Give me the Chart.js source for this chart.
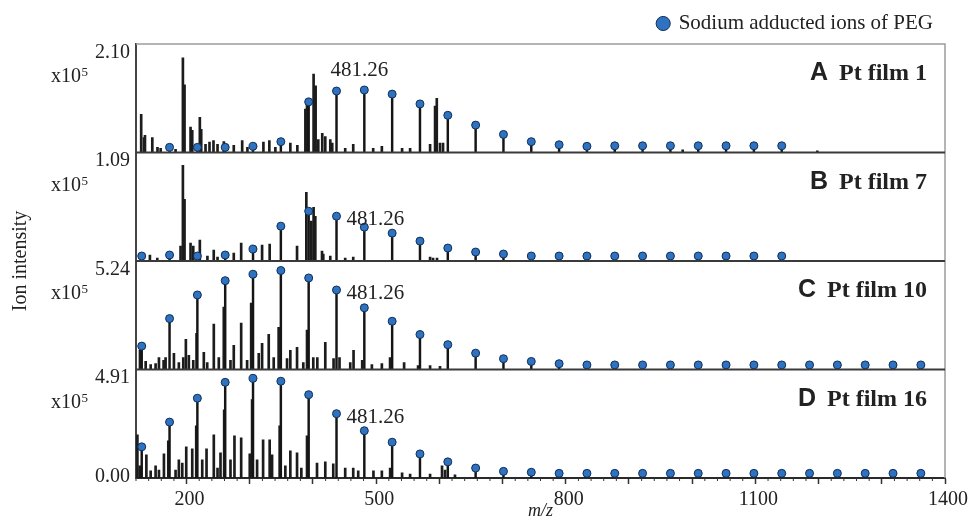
<!DOCTYPE html>
<html>
<head>
<meta charset="utf-8">
<title>PEG sodium adducts on Pt films</title>
<script src="https://cdn.jsdelivr.net/npm/chart.js@4.4.1/dist/chart.umd.min.js"></script>
<style>
  html, body { margin: 0; padding: 0; background: #fff; }
  #wrap { position: relative; width: 969px; height: 519px; }
</style>
</head>
<body>
<div id="wrap"><canvas id="chart" width="969" height="519"></canvas></div>
<script>
const SERIF = "'Liberation Serif', 'Times New Roman', Times, serif";
const SANS = "'Liberation Sans', Arial, Helvetica, sans-serif";

// panels, top to bottom
const films = ['A', 'B', 'C', 'D'];
const filmNames = ['Pt film 1', 'Pt film 7', 'Pt film 10', 'Pt film 16'];
const filmMax = [2.10, 1.09, 5.24, 4.91];          // top of each panel (x10^5)
const xMajorTicks = [200, 300, 400, 500, 600, 700, 800, 900, 1000, 1100, 1200, 1300, 1400];
const xTickLabels = [200, 500, 800, 1100, 1400];
const markedMz = '481.26';

// sodium adducted PEG oligomers, n = 2 ... 30
const pegMz = [129.05, 173.08, 217.10, 261.13, 305.16, 349.18, 393.21, 437.24, 481.26, 525.29,
  569.31, 613.34, 657.37, 701.39, 745.42, 789.45, 833.47, 877.50, 921.52, 965.55,
  1009.58, 1053.60, 1097.63, 1141.66, 1185.68, 1229.71, 1273.73, 1317.76, 1361.79];

// PEG peak heights per film (x10^5), null = not marked
const pegA = [null, 0.10, 0.10, 0.10, 0.12, 0.21, 0.98, 1.19, 1.21, 1.13,
  0.94, 0.72, 0.53, 0.35, 0.21, 0.15, 0.12, 0.13, 0.13, 0.13,
  0.13, 0.13, 0.13, 0.13, null, null, null, null, null];
const pegB = [0.05, 0.06, 0.05, 0.06, 0.12, 0.35, 0.50, 0.45, 0.34, 0.28,
  0.20, 0.13, 0.09, 0.07, 0.05, 0.05, 0.05, 0.05, 0.05, 0.05,
  0.05, 0.05, 0.05, 0.05, null, null, null, null, null];
const pegC = [1.13, 2.46, 3.60, 4.29, 4.60, 4.78, 4.42, 3.84, 2.98, 2.33,
  1.69, 1.20, 0.79, 0.52, 0.39, 0.28, 0.22, 0.22, 0.22, 0.22,
  0.22, 0.22, 0.22, 0.22, 0.22, 0.22, 0.22, 0.22, 0.22];
const pegD = [1.41, 2.53, 3.61, 4.33, 4.51, 4.38, 3.77, 2.91, 2.14, 1.62,
  1.09, 0.73, 0.45, 0.30, 0.26, 0.21, 0.21, 0.21, 0.21, 0.21,
  0.21, 0.21, 0.21, 0.21, 0.21, 0.21, 0.21, 0.21, 0.21];

// other ions (m/z, intensity x10^5)
const peakMzA = [128.2, 132.6, 134.2, 145.8, 154.0, 159.0, 182.6, 194.2, 196.8, 206.3,
  209.0, 221.0, 223.2, 230.0, 236.3, 242.6, 249.0, 259.0, 274.7, 288.0,
  296.3, 321.6, 331.0, 340.5, 364.2, 375.3, 388.0, 390.6, 401.0, 404.2,
  408.4, 414.7, 419.5, 427.4, 430.5, 451.0, 463.7, 495.3, 509.0, 541.0,
  553.7, 585.3, 593.2, 595.9, 601.0, 605.8, 985.0, 1198.0];
const peakA = [0.74, 0.29, 0.33, 0.29, 0.10, 0.08, 0.06, 1.83, 1.31, 0.49,
  0.43, 0.68, 0.45, 0.16, 0.20, 0.23, 0.16, 0.21, 0.14, 0.23,
  0.10, 0.20, 0.23, 0.10, 0.18, 0.14, 0.84, 0.96, 1.52, 1.29,
  0.25, 0.37, 0.31, 0.25, 0.18, 0.08, 0.16, 0.08, 0.12, 0.08,
  0.08, 0.16, 0.90, 1.05, 0.18, 0.18, 0.05, 0.03];

const peakMzB = [142.0, 153.7, 190.5, 194.2, 196.8, 206.3, 210.6, 221.0, 233.0, 243.0,
  249.0, 274.7, 286.4, 319.5, 331.5, 374.8, 389.5, 397.4, 401.0, 403.7,
  414.3, 416.3, 427.4, 451.0, 463.7, 585.3, 590.0, 596.3];
const peakB = [0.06, 0.03, 0.15, 0.96, 0.62, 0.18, 0.15, 0.21, 0.05, 0.11,
  0.04, 0.08, 0.18, 0.16, 0.17, 0.15, 0.69, 0.40, 0.54, 0.45,
  0.10, 0.07, 0.05, 0.03, 0.04, 0.04, 0.03, 0.03];

const peakMzC = [126.3, 135.3, 143.2, 151.0, 156.3, 163.7, 166.8, 180.0, 187.8, 194.8,
  198.9, 203.6, 210.6, 215.8, 227.3, 232.7, 243.1, 251.0, 258.9, 269.5,
  274.7, 286.4, 295.8, 302.2, 314.2, 319.5, 330.0, 337.9, 345.7, 359.0,
  364.2, 374.8, 384.7, 390.6, 400.5, 406.9, 419.5, 432.6, 442.0, 459.0,
  464.2, 477.9, 493.2, 509.0, 522.0, 544.2, 566.3, 585.3, 601.0];
const peakC = [0.92, 0.39, 0.24, 0.29, 0.58, 0.44, 0.58, 0.78, 0.34, 0.58,
  1.46, 0.68, 0.44, 1.75, 0.83, 0.34, 2.19, 0.58, 3.01, 0.44,
  1.17, 2.24, 0.44, 3.21, 0.78, 1.26, 1.70, 0.58, 2.04, 0.53,
  0.92, 1.07, 0.34, 1.90, 0.58, 0.58, 1.31, 0.53, 0.58, 0.34,
  0.92, 0.44, 0.24, 0.29, 0.58, 0.34, 0.19, 0.19, 0.15];

const peakMzD = [122.2, 125.8, 136.4, 143.2, 151.0, 156.3, 164.2, 171.1, 182.6, 187.8,
  193.2, 199.5, 209.0, 215.3, 224.8, 231.6, 243.1, 249.0, 253.7, 259.5,
  269.5, 275.8, 286.4, 300.0, 303.7, 311.6, 321.1, 331.5, 335.3, 347.3,
  356.3, 364.2, 374.8, 381.6, 390.6, 406.4, 419.5, 432.1, 451.0, 463.7,
  471.6, 495.7, 509.0, 522.1, 541.0, 553.7, 585.3, 604.2, 609.0, 624.7];
const peakD = [1.95, 0.55, 1.05, 0.32, 0.55, 0.36, 1.09, 1.68, 0.36, 0.82,
  0.68, 1.41, 1.32, 2.36, 0.82, 1.32, 1.95, 0.45, 1.14, 3.09,
  0.82, 1.91, 1.82, 1.09, 3.55, 0.82, 1.73, 1.73, 1.05, 2.36,
  0.55, 1.23, 1.14, 0.45, 1.91, 0.68, 0.73, 0.64, 0.45, 0.45,
  0.32, 0.32, 0.32, 0.45, 0.23, 0.18, 0.18, 0.55, 0.36, 0.14];

const pegHeights = [pegA, pegB, pegC, pegD];
const peakMz = [peakMzA, peakMzB, peakMzC, peakMzD];
const peakInt = [peakA, peakB, peakC, peakD];

function toPoints(xs, ys) {
    const pts = [];
    xs.forEach((x, i) => {
        if (ys[i] !== null && ys[i] !== undefined) pts.push({ x: x, y: ys[i] });
    });
    return pts;
}

const datasets = [];
films.forEach((f, i) => {
    const axisId = 'y' + f;
    datasets.push({
        type: 'scatter',
        label: i === 0 ? 'Sodium adducted ions of PEG' : '',
        data: toPoints(pegMz, pegHeights[i]),
        yAxisID: axisId,
        pointStyle: 'circle',
        pointRadius: 4,
        pointHoverRadius: 4,
        backgroundColor: '#2e72c0',
        borderColor: '#0f2f5a',
        borderWidth: 1,
        order: 0
    });
    datasets.push({
        type: 'bar',
        label: '',
        data: toPoints(pegMz, pegHeights[i]),
        yAxisID: axisId,
        backgroundColor: '#151515',
        barThickness: 1.8,
        grouped: false,
        order: 1
    });
    datasets.push({
        type: 'bar',
        label: '',
        data: toPoints(peakMz[i], peakInt[i]),
        yAxisID: axisId,
        backgroundColor: '#1c1c1c',
        barThickness: 2,
        grouped: false,
        order: 2
    });
});

const scales = {
    x: {
        type: 'linear',
        min: 120,
        max: 1400,
        offset: false,
        grid: { display: true, offset: false, drawOnChartArea: false, tickLength: 6, tickColor: '#333', tickWidth: 1.5 },
        border: { display: true, color: '#2a2a2a', width: 2 },
        ticks: {
            autoSkip: false,
            maxRotation: 0,
            padding: 4,
            labelOffset: 3,
            color: '#222',
            font: { family: SERIF, size: 20 },
            callback: (v) => xTickLabels.includes(v) ? String(v) : ''
        },
        afterBuildTicks: (axis) => {
            axis.ticks = xMajorTicks.map(v => ({ value: v }));
        },
        title: {
            display: true,
            text: 'm/z',
            color: '#222',
            font: { family: SERIF, size: 18, style: 'italic' },
            padding: { top: 0, bottom: -3 }
        },
        afterFit: (axis) => { axis.height = 41; }
    }
};

// stacked axes are laid out bottom first, so add them from D up to A
films.slice().reverse().forEach((f) => {
    const i = films.indexOf(f);
    const top = filmMax[i];
    scales['y' + f] = {
        type: 'linear',
        position: 'left',
        stack: 'films',
        stackWeight: 1,
        min: 0,
        max: top,
        grid: { display: false, drawTicks: false },
        border: { display: true, color: '#444', width: 2 },
        ticks: {
            padding: 6,
            color: '#222',
            font: { family: SERIF, size: 20 },
            callback: (v) => (v > top / 2 ? top : 0).toFixed(2)
        },
        // the max label sits just under the panel top, 0.00 just above the base
        afterBuildTicks: (axis) => {
            const t = [{ value: top * (1 - 8.3 / 108) }];
            if (i === films.length - 1) t.push({ value: top * 1.3 / 108 });
            axis.ticks = t;
        },
        afterFit: (axis) => { axis.width = 136; }
    };
});

// frame, panel separators, minor ticks and the panel texts
const filmDecor = {
    id: 'filmDecor',
    afterDatasetsDraw(chart) {
        const ctx = chart.ctx;
        const area = chart.chartArea;
        ctx.save();
        ctx.strokeStyle = '#9c9c9c';
        ctx.lineWidth = 1.5;
        ctx.beginPath();
        ctx.moveTo(area.left, area.top);
        ctx.lineTo(area.right, area.top);
        ctx.lineTo(area.right, area.bottom);
        ctx.stroke();

        ctx.strokeStyle = '#3a3a3a';
        ctx.lineWidth = 2;
        films.slice(0, -1).forEach(f => {
            const y = chart.scales['y' + f].bottom;
            ctx.beginPath();
            ctx.moveTo(area.left, y);
            ctx.lineTo(area.right, y);
            ctx.stroke();
        });

        const xs = chart.scales.x;
        ctx.strokeStyle = '#333';
        ctx.lineWidth = 1;
        for (let v = 120; v < 1400; v += 20) {
            if (v % 100 === 0) continue;
            const px = xs.getPixelForValue(v);
            ctx.beginPath();
            ctx.moveTo(px, area.bottom);
            ctx.lineTo(px, area.bottom + 3);
            ctx.stroke();
        }
        ctx.restore();
    },
    afterDraw(chart) {
        const ctx = chart.ctx;
        const area = chart.chartArea;
        const xs = chart.scales.x;
        ctx.save();
        ctx.fillStyle = '#222';

        films.forEach((f, i) => {
            const ys = chart.scales['y' + f];

            // x10^5 under the max label
            ctx.textAlign = 'left';
            ctx.textBaseline = 'alphabetic';
            ctx.font = `20px ${SERIF}`;
            ctx.fillText('x10', area.left - 85, ys.top + 38);
            const w = ctx.measureText('x10').width;
            ctx.font = `13px ${SERIF}`;
            ctx.fillText('5', area.left - 85 + w + 0.5, ys.top + 32);

            // panel title
            const right = area.right - 18;
            const base = ys.top + 36;
            ctx.textAlign = 'right';
            ctx.font = `bold 24px ${SERIF}`;
            ctx.fillText(filmNames[i], right, base);
            const nameW = ctx.measureText(filmNames[i]).width;
            ctx.font = `bold 25px ${SANS}`;
            ctx.fillText(f, right - nameW - 11, base);

            // 481.26 marker
            ctx.font = `21px ${SERIF}`;
            if (i === 0) {
                ctx.textAlign = 'center';
                ctx.fillText(markedMz, xs.getPixelForValue(481.26) - 5, ys.getPixelForValue(pegHeights[i][8]) - 14);
            } else {
                ctx.textAlign = 'left';
                ctx.fillText(markedMz, xs.getPixelForValue(437.24) + 10, ys.getPixelForValue(pegHeights[i][7]) + 9);
            }
        });

        // shared y title
        ctx.translate(21, (area.top + area.bottom) / 2);
        ctx.rotate(-Math.PI / 2);
        ctx.textAlign = 'center';
        ctx.textBaseline = 'middle';
        ctx.font = `20px ${SERIF}`;
        ctx.fillText('Ion intensity', 0, 0);
        ctx.restore();
    }
};

new Chart(document.getElementById('chart').getContext('2d'), {
    type: 'bar',
    data: { datasets: datasets },
    options: {
        responsive: false,
        animation: false,
        devicePixelRatio: 1,
        layout: { padding: { left: 0, right: 23, top: 0, bottom: 0 } },
        plugins: {
            legend: {
                position: 'top',
                align: 'end',
                labels: {
                    filter: (item) => item.text !== '',
                    usePointStyle: true,
                    pointStyle: 'circle',
                    boxWidth: 10,
                    boxHeight: 10,
                    padding: 13,
                    color: '#222',
                    font: { family: SERIF, size: 21 }
                }
            },
            tooltip: { enabled: false }
        },
        scales: scales
    },
    plugins: [filmDecor]
});
</script>
</body>
</html>
